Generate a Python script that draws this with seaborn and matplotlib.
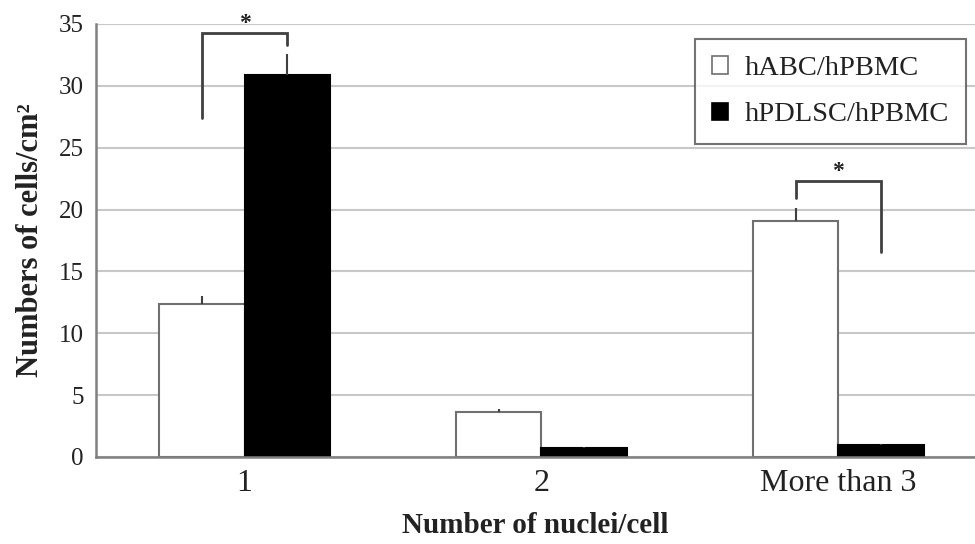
import matplotlib
matplotlib.use("Agg")
import matplotlib.pyplot as plt
import seaborn as sns
import pandas as pd
import numpy as np

categories = ["1", "2", "More than 3"]
series_names = ["hABC/hPBMC", "hPDLSC/hPBMC"]
habc_values = [12.4, 3.6, 19.1]
habc_err = [0.6, 0.25, 1.0]
hpdlsc_values = [30.9, 0.7, 0.95]
hpdlsc_err = [1.7, 0.1, 0.1]
y_ticks = [0, 5, 10, 15, 20, 25, 30, 35]

# significance brackets: (category index, top y, left leg bottom, right leg bottom)
sig_cats = [0, 2]
sig_top = [34.3, 22.3]
sig_left_bottom = [27.4, 20.9]
sig_right_bottom = [33.3, 16.6]

df = pd.DataFrame({
    "cat": categories * 2,
    "series": [series_names[0]] * 3 + [series_names[1]] * 3,
    "value": habc_values + hpdlsc_values,
})

sns.set_theme(style="white")
plt.rcParams["font.family"] = ["Liberation Serif", "DejaVu Serif"]

fig = plt.figure(figsize=(9.75, 5.44), dpi=100)
ax = fig.add_axes([0.0985, 0.16, 0.9015, 0.796])

sns.barplot(data=df, x="cat", y="value", hue="series", order=categories,
            hue_order=series_names, palette=["white", "black"], width=0.575,
            errorbar=None, ax=ax, linewidth=1.5, legend=True, saturation=1)

patches = ax.patches[:6]
edgecols = ["#707070"] * 3 + ["black"] * 3
for p, ec in zip(patches, edgecols):
    p.set_edgecolor(ec)

centers = [p.get_x() + p.get_width() / 2 for p in patches]
vals = habc_values + hpdlsc_values
errs = habc_err + hpdlsc_err
ax.errorbar(centers, vals, yerr=[np.zeros(6), errs], fmt="none",
            ecolor="#404040", elinewidth=1.5, capsize=0, zorder=3)

for i, c in enumerate(sig_cats):
    xl = centers[c]
    xr = centers[3 + c]
    ax.plot([xl, xl, xr, xr],
            [sig_left_bottom[i], sig_top[i], sig_top[i], sig_right_bottom[i]],
            color="#404040", lw=2, zorder=4, solid_joinstyle="miter")
    ax.text((xl + xr) / 2, sig_top[i] - 0.1, "*", ha="center", va="bottom",
            fontsize=17, fontweight="bold", color="#202020")

ax.set_ylim(0, 35)
ax.set_xlim(-0.5, 2.46)
ax.set_yticks(y_ticks)
ax.yaxis.grid(True, color="#c8c8c8", lw=1.5)
ax.set_axisbelow(True)
for s in ["top", "right"]:
    ax.spines[s].set_visible(False)
for s in ["left", "bottom"]:
    ax.spines[s].set_color("#808080")
    ax.spines[s].set_linewidth(1.8)
ax.tick_params(axis="y", labelsize=18, length=0, pad=9, colors="#222222")
ax.tick_params(axis="x", labelsize=23, length=0, pad=9, colors="#222222")

ax.set_xlabel("Number of nuclei/cell", fontsize=21, fontweight="bold",
              labelpad=10, color="#222222")
ax.set_ylabel("Numbers of cells/cm²", fontsize=22, fontweight="bold",
              labelpad=10, color="#222222")

handles, labels = ax.get_legend_handles_labels()
for h, ec in zip(handles, ["#707070", "black"]):
    h.set_edgecolor(ec)
    h.set_linewidth(1.2)
leg = ax.legend(handles, labels, loc="upper right", bbox_to_anchor=(1.0, 0.985),
                fontsize=20.5, frameon=True, fancybox=False, handlelength=0.55,
                handleheight=0.55, handletextpad=0.6, borderpad=0.6,
                labelspacing=0.75, borderaxespad=0.3)
leg.get_frame().set_edgecolor("#505050")
leg.get_frame().set_linewidth(1.5)
for t in leg.get_texts():
    t.set_color("#222222")

fig.savefig("out.png", dpi=100)
